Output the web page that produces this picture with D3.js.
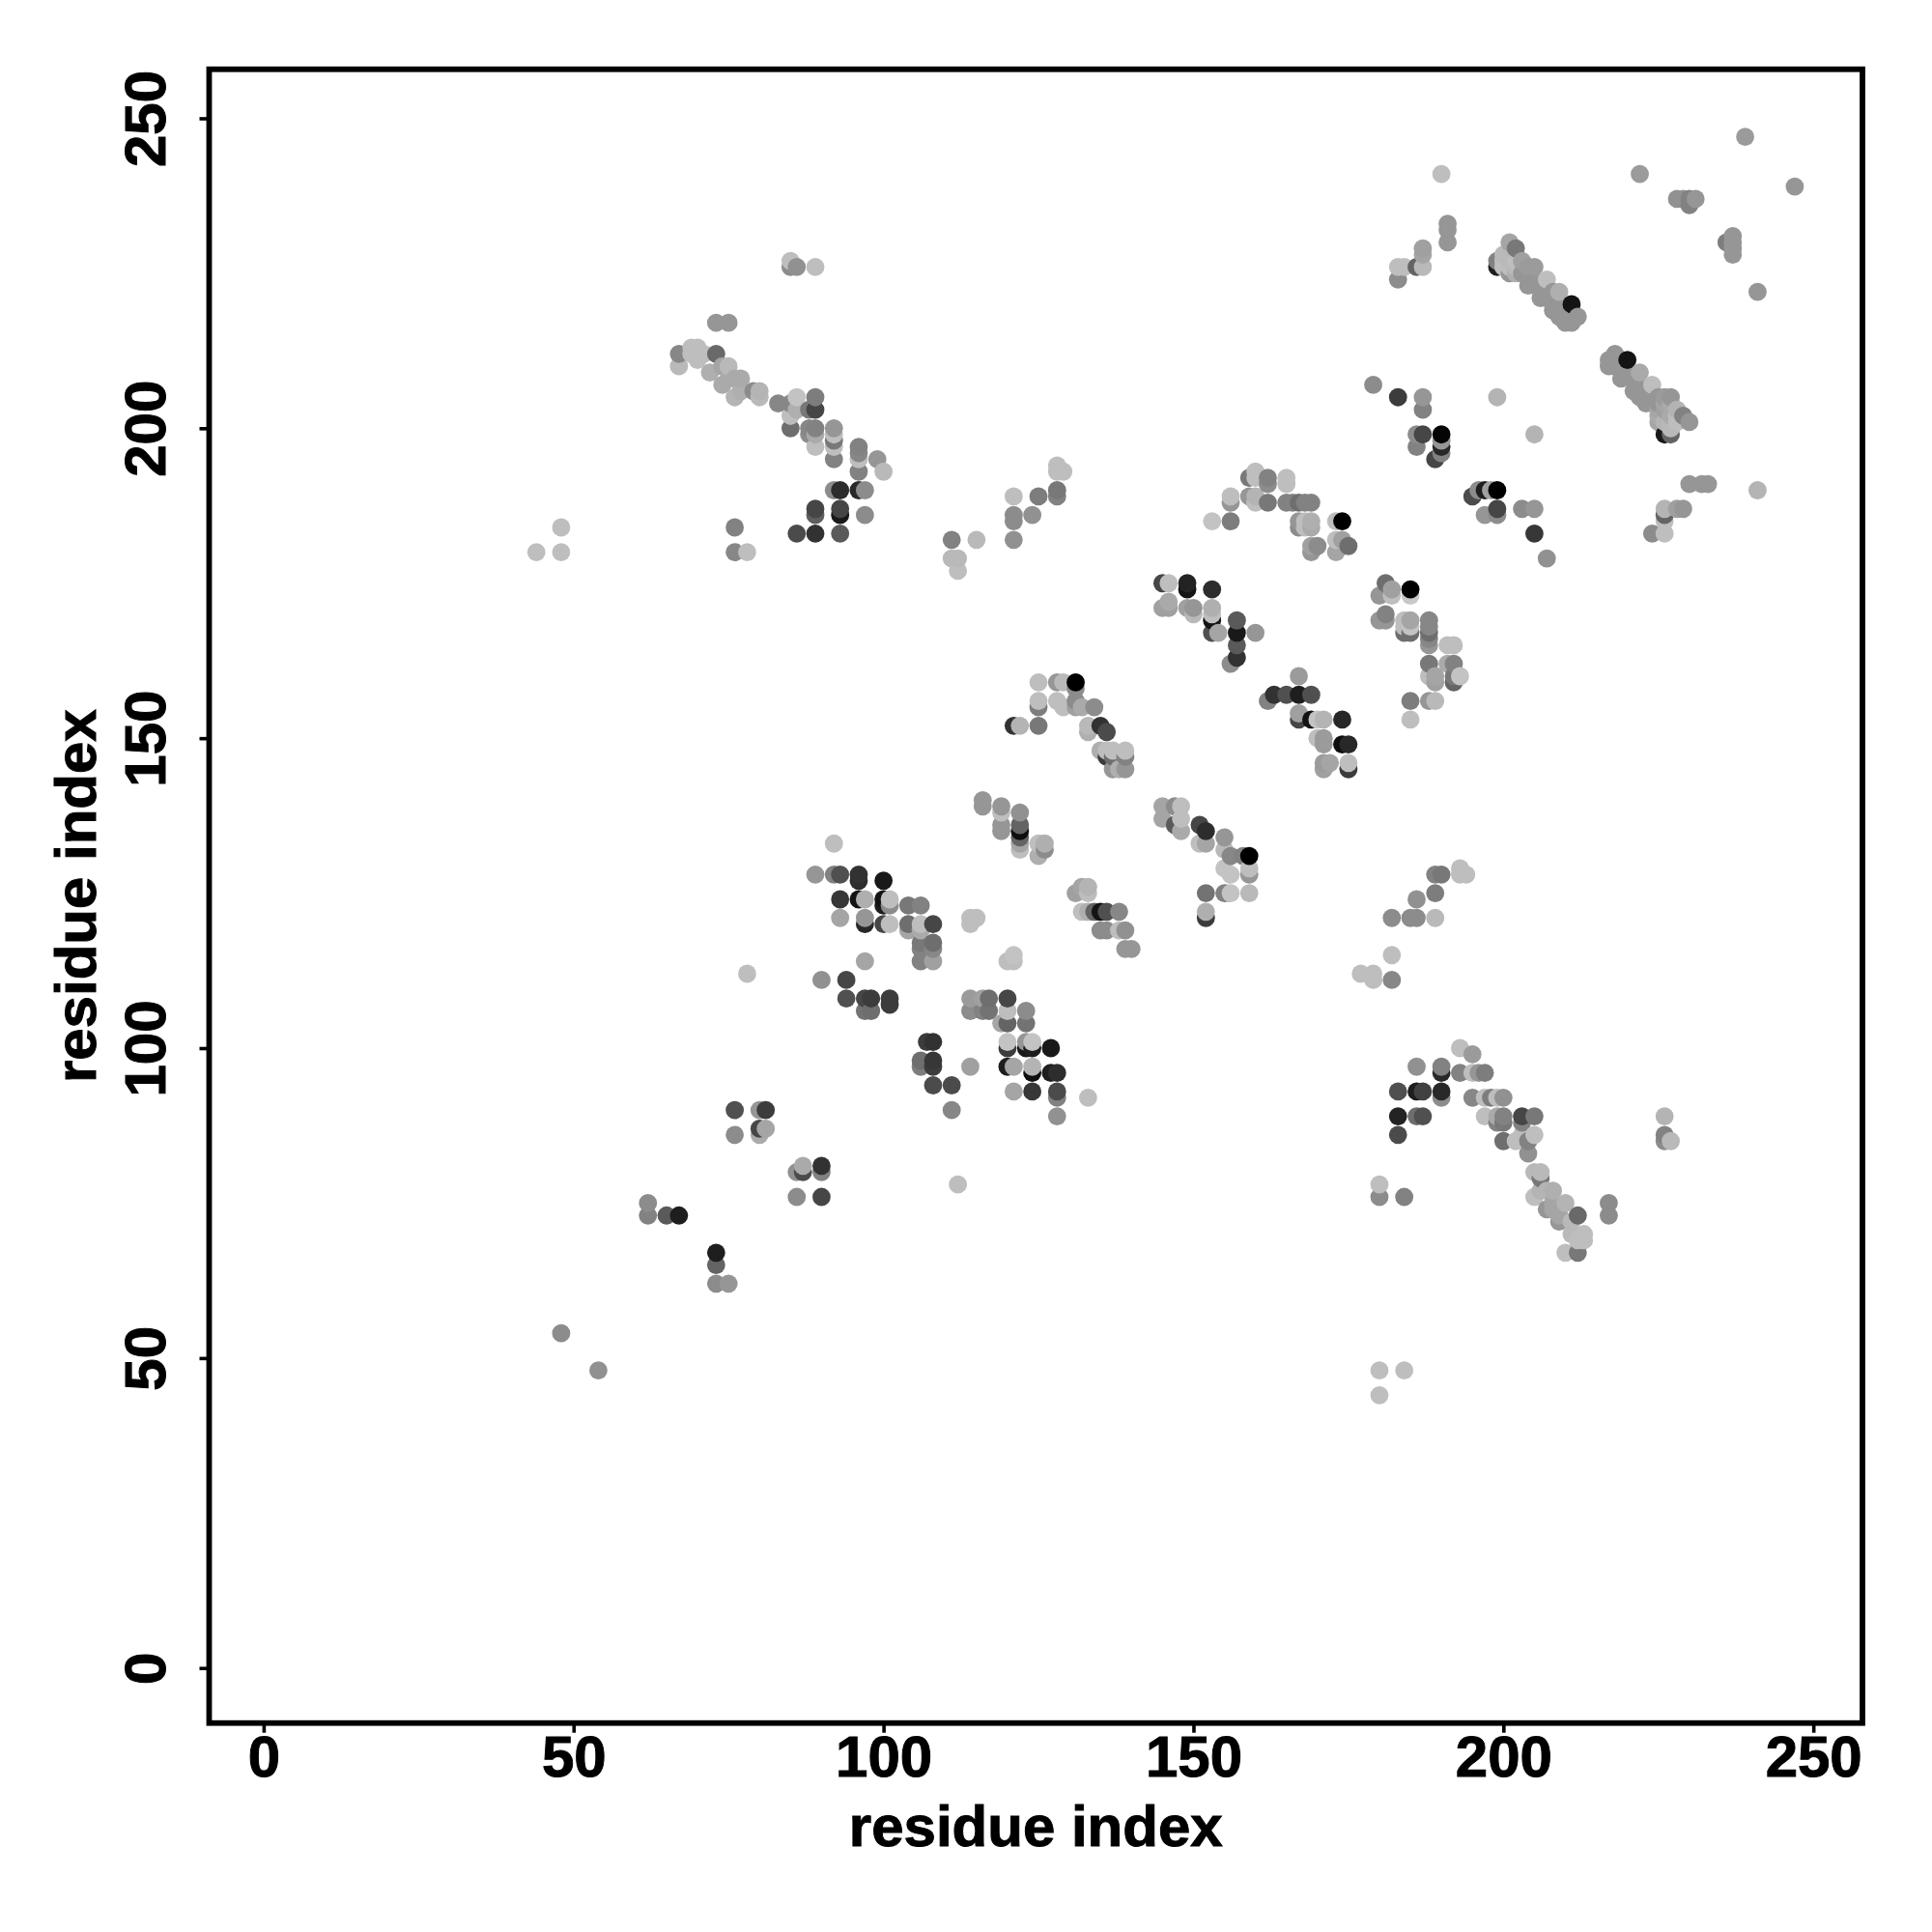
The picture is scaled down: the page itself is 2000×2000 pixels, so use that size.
<!DOCTYPE html>
<html><head><meta charset="utf-8">
<script src="https://cdnjs.cloudflare.com/ajax/libs/d3/7.8.5/d3.min.js"></script>
<style>html,body{margin:0;background:#fff}svg{display:block}</style></head>
<body><div id="chart"></div>
<script>
// each contact: [residue i, residue j, gray level]
const lowerLeft=[[44,180,190],[48,184,190],[48,180,190],[48,54,140],[54,48,145],[62,75,140],[62,73,130],[65,73,90],[67,73,30],[73,67,30],[73,65,100],[73,62,140],[75,62,150],[76,90,80],[76,86,140],[80,90,150],[81,90,60],[80,87,70],[81,87,165],[80,86,170],[86,80,145],[87,80,75],[87,81,170],[90,81,50],[90,80,130],[86,76,140],[90,76,70],[78,112,190],[112,78,190],[180,48,190],[184,48,190],[180,44,190],[180,78,190],[180,76,140],[184,76,130],[226,89,180],[226,86,130],[227,85,185],[226,85,140]];
const upperLeft=[[85,227,190],[85,226,140],[86,226,145],[89,226,190],[73,217,150],[75,217,150],[67,212,135],[67,210,185],[69,213,190],[70,213,190],[69,212,190],[70,211,190],[71,212,190],[73,212,105],[72,209,175],[74,210,165],[75,210,185],[74,207,170],[75,208,170],[76,205,180],[76,208,170],[77,208,170],[77,206,175],[79,206,140],[80,206,180],[80,205,185],[83,204,135],[85,204,135],[85,202,190],[85,200,110],[86,205,195],[86,203,175],[88,203,120],[89,205,125],[89,203,70],[88,200,135],[88,199,140],[89,200,130],[89,199,170],[89,197,190],[92,200,150],[92,199,190],[92,198,120],[92,197,190],[92,195,130],[96,197,130],[96,196,135],[96,195,190],[96,193,130],[99,195,150],[100,193,185],[92,190,140],[93,190,45],[96,190,40],[97,190,140],[89,187,70],[89,186,95],[93,187,70],[93,186,25],[97,186,140],[86,183,75],[89,183,50],[93,183,90],[76,184,130],[76,180,135],[78,180,190],[111,182,130],[115,182,185],[111,179,185],[112,179,185],[112,177,190],[121,189,190],[125,189,125],[121,186,140],[121,185,140],[124,186,145],[121,182,145],[128,190,120],[128,189,130],[128,194,190],[129,193,190],[128,193,190]];
const upperRight=[[190,241,190],[222,241,155],[239,247,155],[247,239,150],[241,222,150],[228,237,145],[229,237,145],[230,237,130],[230,236,130],[231,237,150],[236,230,125],[237,231,150],[237,230,150],[237,228,150],[237,229,150],[191,233,150],[191,232,150],[191,230,150],[187,229,160],[187,228,165],[187,226,185],[183,226,190],[184,226,190],[183,224,140],[186,226,100],[199,227,130],[199,226,30],[200,227,190],[201,230,165],[202,229,120],[201,227,185],[201,225,150],[200,228,185],[200,226,190],[201,226,190],[202,225,175],[202,226,185],[202,227,190],[203,227,160],[203,225,150],[204,226,155],[204,225,150],[205,226,155],[204,223,150],[205,224,150],[205,223,150],[206,223,150],[207,224,190],[206,221,150],[207,222,150],[207,221,150],[208,219,150],[208,220,150],[208,221,150],[209,222,175],[208,222,150],[209,220,150],[209,218,150],[210,219,150],[210,218,150],[210,217,150],[211,217,150],[211,220,20],[212,218,150],[209,219,150],[218,212,150],[217,211,150],[217,210,150],[218,210,150],[219,210,150],[220,211,20],[219,208,150],[218,211,150],[220,209,150],[221,208,150],[222,207,150],[222,205,150],[222,209,170],[221,206,150],[223,206,150],[224,205,150],[224,204,150],[225,205,150],[225,204,150],[224,207,190],[223,204,150],[226,205,155],[227,205,150],[225,201,165],[225,203,165],[226,204,165],[227,204,170],[228,203,180],[226,201,180],[227,201,185],[228,202,190],[227,202,170],[226,203,160],[226,199,25],[227,199,100],[227,200,185],[225,202,170],[229,202,130],[230,201,150],[228,201,190],[230,191,150],[232,191,150],[233,191,150],[226,187,180],[228,187,160],[229,187,150],[226,186,100],[224,183,140],[226,183,190],[226,185,190],[241,190,180],[179,207,140],[183,205,60],[187,205,150],[187,203,130],[186,199,140],[187,199,70],[190,199,5],[186,197,130],[190,198,150],[190,197,40],[190,196,130],[189,195,70],[199,205,180],[205,199,180],[195,189,75],[196,190,140],[197,190,30],[198,190,160],[199,190,0],[197,186,150],[199,187,70],[199,186,140],[203,187,140],[205,187,150],[205,183,55],[207,179,145]];
const middleUpper=[[159,192,120],[160,193,190],[160,192,190],[161,192,190],[162,192,130],[162,191,140],[165,192,190],[165,191,190],[156,189,190],[156,188,150],[159,189,150],[160,189,180],[160,188,190],[162,188,120],[165,188,130],[166,188,130],[167,188,110],[168,188,130],[169,188,130],[153,185,195],[156,185,125],[167,185,150],[167,184,140],[168,185,190],[169,185,175],[168,184,190],[169,184,170],[173,185,190],[174,185,0],[169,181,160],[169,180,150],[170,181,140],[173,182,190],[174,182,160],[173,180,165],[175,181,110],[145,175,70],[146,175,190],[149,175,35],[149,174,20],[153,174,45],[145,171,160],[146,172,170],[146,171,160],[149,171,160],[150,171,150],[150,170,185],[153,171,175],[153,170,190],[153,169,20],[153,167,80],[154,167,165],[157,169,90],[157,167,25],[157,165,90],[157,163,50],[156,162,140],[160,167,150],[167,160,155],[162,156,130],[163,157,50],[165,157,80],[167,157,30],[169,157,80],[167,154,160],[167,153,70],[169,153,20],[170,153,195],[171,153,180],[174,153,40],[170,150,190],[171,150,155],[171,149,155],[174,149,15],[175,149,40],[171,146,155],[172,146,165],[171,145,160],[175,146,190],[175,145,60],[181,175,110],[180,173,150],[182,174,160],[182,173,190],[185,174,0],[185,173,200],[181,170,130],[180,169,150],[181,169,150],[184,169,190],[185,169,165],[184,167,110],[185,167,110],[184,168,190],[185,168,195],[188,169,135],[188,168,135],[188,167,110],[188,166,135],[188,165,150],[191,165,190],[192,165,190],[188,162,120],[191,162,170],[192,162,130],[188,160,190],[189,160,165],[189,159,160],[192,160,120],[192,159,100],[193,160,195],[185,156,125],[188,156,150],[189,156,185],[185,153,190]];
const middleLower=[[125,159,190],[128,159,150],[129,159,185],[131,159,0],[131,158,140],[125,156,190],[125,155,125],[128,156,190],[129,155,190],[131,156,140],[131,155,160],[132,155,170],[134,155,140],[121,152,50],[122,152,180],[125,152,120],[133,152,185],[133,151,175],[135,152,50],[136,151,75],[135,148,175],[136,148,190],[137,148,190],[139,148,190],[136,147,60],[137,147,110],[139,147,130],[137,145,150],[138,145,175],[139,145,150],[116,140,150],[116,139,150],[119,139,150],[119,138,190],[119,136,150],[119,135,150],[122,138,145],[122,136,100],[122,135,15],[122,134,100],[122,133,165],[122,132,190],[125,133,190],[126,133,175],[125,131,175],[126,132,140],[145,139,165],[145,137,165],[147,139,140],[148,139,190],[148,137,190],[148,135,170],[147,136,90],[151,136,70],[152,135,45],[151,133,190],[152,133,165],[155,134,150],[155,132,185],[156,131,135],[158,131,130],[159,131,0],[159,129,190],[159,128,150],[155,129,195],[156,128,195],[152,125,115],[155,125,130],[156,125,195],[159,125,185],[152,122,175],[152,121,60],[131,125,160],[132,126,165],[133,126,180],[133,125,190],[132,122,190],[133,122,175],[134,122,100],[135,122,20],[136,122,80],[138,122,135],[135,119,140],[136,119,140],[138,119,190],[139,119,145],[139,116,150],[140,116,150],[182,115,190],[177,112,190],[179,112,190],[179,111,190],[182,111,135],[182,121,140],[185,121,140],[186,121,140],[189,121,185],[186,124,145],[189,125,125],[189,128,130],[190,128,120],[193,129,190],[193,128,190],[194,128,190]];
const centerLeft=[[92,133,190],[89,128,150],[92,128,130],[93,128,80],[96,128,50],[96,127,45],[100,127,25],[93,124,55],[96,124,20],[97,124,175],[100,124,20],[100,123,30],[101,124,190],[101,123,140],[104,123,120],[106,123,130],[93,121,165],[97,121,150],[97,120,40],[100,120,70],[101,120,190],[104,120,110],[104,119,165],[106,120,190],[108,120,70],[106,119,170],[106,117,120],[108,117,110],[106,116,130],[108,116,135],[106,114,130],[108,114,160],[114,121,190],[115,121,190],[114,120,190],[120,114,190],[121,115,195],[121,114,190],[97,114,165],[90,111,145],[94,111,70],[94,108,80],[97,108,70],[98,108,60],[101,108,60],[101,107,60],[97,106,115],[98,106,110],[114,108,155],[116,108,160],[117,108,110],[120,108,70],[114,106,140],[116,106,130],[117,106,115],[119,104,165],[120,106,190],[120,104,100],[123,106,140],[123,104,115],[120,101,195],[120,100,60],[123,101,150],[123,100,25],[124,101,195],[124,100,30],[127,100,25],[120,97,30],[121,97,165],[124,97,180],[124,96,15],[127,96,30],[128,96,45],[121,93,165],[124,93,55],[128,93,75],[128,92,130],[128,89,145],[133,92,190],[114,97,160],[107,101,60],[108,101,50],[106,98,110],[106,97,125],[108,98,55],[108,97,60],[108,94,75],[111,94,75],[111,90,135]];
const lowerRight=[[193,100,190],[195,99,155],[186,97,145],[190,97,130],[190,96,40],[193,96,130],[195,96,190],[196,96,150],[197,96,125],[183,93,80],[186,93,30],[187,93,65],[190,93,40],[190,92,140],[195,92,135],[197,92,190],[198,92,125],[199,92,190],[200,92,145],[183,89,35],[186,89,110],[187,89,80],[197,89,190],[199,89,170],[199,88,130],[200,89,130],[200,88,120],[203,89,70],[203,88,130],[205,89,120],[183,86,75],[200,85,110],[202,85,190],[203,86,190],[204,85,130],[205,86,190],[204,83,145],[205,80,185],[206,80,185],[206,79,120],[205,76,190],[206,77,180],[207,77,180],[208,77,175],[207,74,150],[208,75,165],[208,74,165],[209,72,150],[209,73,165],[210,75,180],[211,72,185],[212,73,105],[211,70,185],[213,70,190],[213,69,190],[212,69,190],[210,67,190],[212,67,120],[217,75,140],[217,73,140]];
const tickValues=[0,50,100,150,200,250];
const axisTitle="residue index";

const contacts=d3.sort([...lowerLeft,...upperLeft,...upperRight,...middleUpper,...middleLower,...centerLeft,...lowerRight],d=>d[0],d=>d[1]);
const W=2000,H=2000,L=216.5,R=1928,T=71.7,B=1783.7;
const x=d3.scaleLinear().domain([-8.79,257.92]).range([L,R]);
const y=d3.scaleLinear().domain([-8.88,257.91]).range([B,T]);
const svg=d3.select("#chart").append("svg").attr("width",W).attr("height",H);
const font="'Liberation Sans',Arial,sans-serif";
svg.append("g").selectAll("circle").data(contacts).join("circle")
  .attr("cx",d=>x(d[0])).attr("cy",d=>y(d[1])).attr("r",9.4)
  .attr("fill",d=>d3.rgb(d[2],d[2],d[2]));
svg.append("rect").attr("x",L).attr("y",T).attr("width",R-L).attr("height",B-T)
  .attr("fill","none").attr("stroke","#000").attr("stroke-width",5.8);
const ax=svg.append("g").attr("transform",`translate(0,${B})`)
  .call(d3.axisBottom(x).tickValues(tickValues).tickSize(10).tickPadding(0));
const ay=svg.append("g").attr("transform",`translate(${L},0)`)
  .call(d3.axisLeft(y).tickValues(tickValues).tickSize(10).tickPadding(0));
[ax,ay].forEach(g=>{g.select(".domain").remove();
  g.selectAll(".tick line").attr("stroke","#000").attr("stroke-width",3.6);
  g.selectAll("text").attr("fill","#000").attr("stroke","#000").attr("stroke-width",1).attr("font-family",font).attr("font-weight",700).attr("font-size",60);});
ax.selectAll("text").attr("dy",null).attr("y",1839-B).attr("text-anchor","middle");
ay.selectAll("text").attr("dy",null).attr("x",null).attr("y",null).attr("text-anchor","middle")
  .attr("transform",`translate(${170.5-L},0) rotate(-90)`);
svg.append("text").attr("x",(L+R)/2).attr("y",1911).attr("text-anchor","middle").attr("stroke","#000").attr("stroke-width",1)
  .attr("font-family",font).attr("font-weight",700).attr("font-size",60).text(axisTitle);
svg.append("text").attr("transform",`translate(99,${(T+B)/2}) rotate(-90)`).attr("text-anchor","middle").attr("stroke","#000").attr("stroke-width",1)
  .attr("font-family",font).attr("font-weight",700).attr("font-size",60).text(axisTitle);
</script></body></html>
